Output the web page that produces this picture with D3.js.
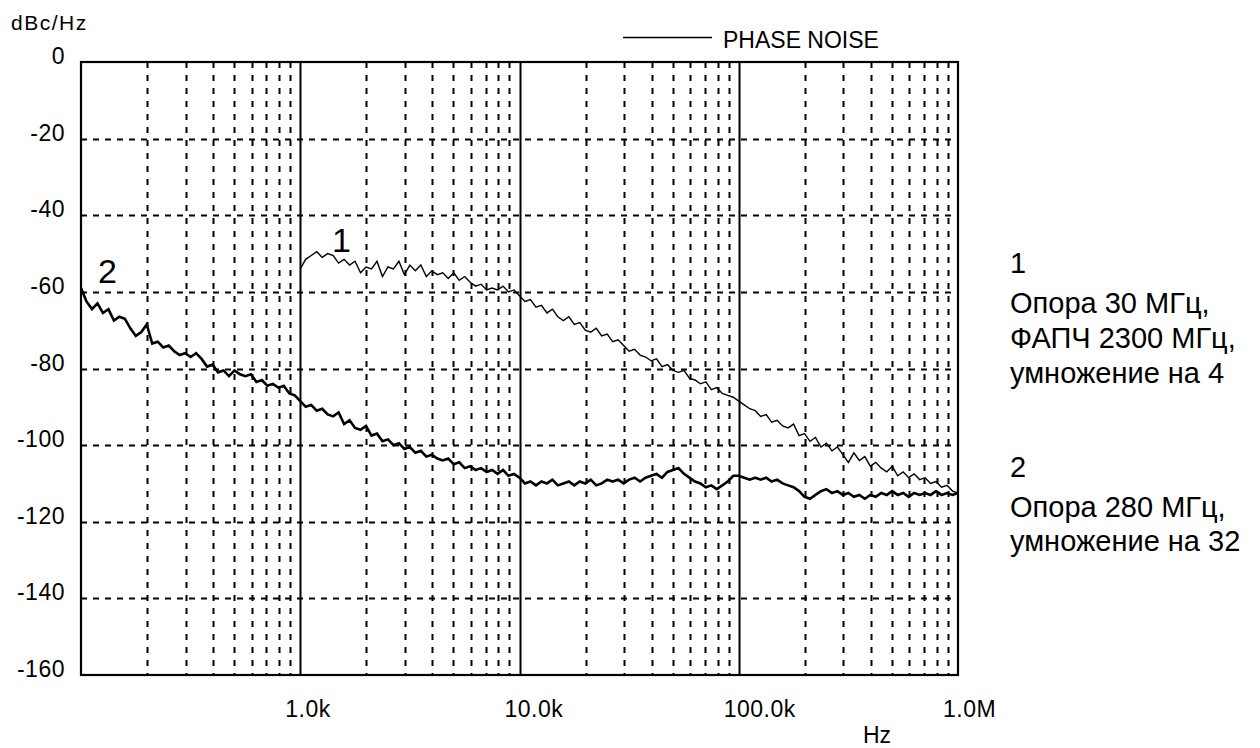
<!DOCTYPE html>
<html>
<head>
<meta charset="utf-8">
<script src="https://cdnjs.cloudflare.com/ajax/libs/d3/7.8.5/d3.min.js"></script>
<style>
  body { margin: 0; background: #fff; }
  svg { display: block; font-family: "Liberation Sans", Arial, sans-serif; }
</style>
</head>
<body>
<div id="chart"></div>
<script>
// mantissas inside one decade (log-even steps), shared by both traces
const steps = [1.000, 1.059, 1.122, 1.189, 1.259, 1.334, 1.413, 1.496, 1.585, 1.679,
  1.778, 1.884, 1.995, 2.113, 2.239, 2.371, 2.512, 2.661, 2.818, 2.985,
  3.162, 3.350, 3.548, 3.758, 3.981, 4.217, 4.467, 4.732, 5.012, 5.309,
  5.623, 5.957, 6.310, 6.683, 7.079, 7.499, 7.943, 8.414, 8.913, 9.441];

// trace 1 : ref 30 MHz, PLL 2300 MHz, x4  (starts at 1 kHz)
const trace1_1k = [-54, -51.5, -50.5, -49.5, -51, -50, -50.5, -52.5, -51.5, -53,
  -52, -55, -53.5, -54, -52, -56, -53.5, -54, -52, -55.5,
  -53, -54.5, -53, -56, -54.5, -55.5, -55, -56.5, -55, -57,
  -56, -57.5, -58.5, -58, -59.5, -59, -59.5, -58.5, -60, -59.5];
const trace1_10k = [-61, -62.5, -62, -64, -63.5, -65.5, -64.5, -66.5, -67.5, -66.5,
  -68.5, -68, -70, -70.5, -69.5, -71.5, -71, -73, -72.5, -74,
  -75.5, -75, -76.5, -77, -78, -77.5, -79.5, -79, -80.5, -81,
  -80.5, -82.5, -83, -84, -83.5, -85.5, -85, -86.5, -87, -87.5];
const trace1_100k = [-88.5, -89.5, -90.5, -91, -92.5, -92, -94, -93.5, -95, -95.5,
  -94.5, -97.5, -97, -99, -98, -100.5, -99.5, -101.5, -100.5, -102.5,
  -104.5, -102, -104, -103, -105.5, -104.5, -106, -107, -105.5, -108,
  -107, -108.5, -107.5, -109, -108.5, -110, -109.5, -111, -110.5, -112];
const trace1_1M = -112.5;

// trace 2 : ref 280 MHz, x32  (starts at 100 Hz)
const trace2_100 = [-59, -62.5, -64.5, -63, -65.5, -64.5, -67.5, -66.5, -67, -69.5,
  -71.5, -70.5, -68.5, -73.5, -73, -74.5, -74, -75.5, -76.5, -76,
  -77, -76, -77.5, -79.5, -79, -81, -80.5, -82, -80.5, -81.5,
  -82, -81.5, -83.5, -83, -84.5, -84, -85, -84.5, -86.5, -87];
const trace2_1k = [-88.5, -90, -89.5, -91, -90.5, -92, -92.5, -91.5, -94.5, -93.5,
  -95.5, -96, -95, -97.5, -97, -99, -98.5, -100, -99.5, -101,
  -100.5, -102, -101.5, -103, -102.5, -103.5, -104, -103.5, -105, -104.5,
  -106, -105.5, -106.5, -106, -107, -106.5, -107.5, -106.5, -108, -107.5];
const trace2_10k = [-108.5, -110, -109.5, -110.5, -109.5, -110, -109, -110.5, -110, -109.5,
  -110.5, -109.5, -110, -109, -110.5, -110, -109, -109.5, -109, -110,
  -109, -108.5, -109.5, -108.5, -108, -107.5, -108.5, -107, -106.5, -106,
  -107.5, -108.5, -109.5, -110, -111, -110.5, -111.5, -110.5, -109.5, -108];
const trace2_100k = [-108, -108.5, -109, -108.5, -109, -108.5, -109.5, -109, -110, -110.5,
  -111, -112, -113.5, -114, -113, -112, -111.5, -112.5, -112, -113,
  -112.5, -113.5, -113, -114, -113, -113.5, -112.5, -113, -112, -113,
  -112.5, -113.5, -112.5, -113, -112.5, -113, -112, -113, -112.5, -113];
const trace2_1M = -112.5;

const yTicks = [0, -20, -40, -60, -80, -100, -120, -140, -160];
const xDecades = [1e3, 1e4, 1e5, 1e6];
const xLabels = ['1.0k', '10.0k', '100.0k', '1.0M'];

const note1 = ['Опора 30 МГц,', 'ФАПЧ 2300 МГц,', 'умножение на 4'];
const note2 = ['Опора 280 МГц,', 'умножение на 32'];

// glue decade blocks into [freq, dB] pairs
function buildTrace(startDecade, blocks, last) {
  var pts = [];
  blocks.forEach(function (vals, b) {
    var dec = startDecade * Math.pow(10, b);
    vals.forEach(function (v, i) { pts.push([dec * steps[i], v]); });
  });
  pts.push([startDecade * Math.pow(10, blocks.length), last]);
  return pts;
}

const pts1 = buildTrace(1e3, [trace1_1k, trace1_10k, trace1_100k], trace1_1M);
const pts2 = buildTrace(1e2, [trace2_100, trace2_1k, trace2_10k, trace2_100k], trace2_1M);

const W = 1260, H = 748;
const plot = { left: 81, right: 958, top: 62, bottom: 675 };

const svg = d3.select('#chart').append('svg').attr('width', W).attr('height', H);

const x = d3.scaleLog().domain([100, 1e6]).range([plot.left, plot.right]);
const y = d3.scaleLinear().domain([-160, 0]).range([plot.bottom, plot.top]);

// grid ------------------------------------------------------------
const grid = svg.append('g');
const minor = x.ticks().filter(function (f) {
  var m = f / Math.pow(10, Math.floor(Math.log10(f) + 1e-9));
  return Math.round(m) !== 1;
});
grid.selectAll('line.vminor').data(minor).enter().append('line')
  .attr('x1', d => Math.round(x(d)) + 0.5).attr('x2', d => Math.round(x(d)) + 0.5)
  .attr('y1', plot.top).attr('y2', plot.bottom)
  .attr('stroke', '#000').attr('stroke-width', 2).attr('stroke-dasharray', '6,7');

grid.selectAll('line.hgrid').data(yTicks.slice(1, -1)).enter().append('line')
  .attr('x1', plot.left).attr('x2', plot.right)
  .attr('y1', d => Math.round(y(d)) + 0.5).attr('y2', d => Math.round(y(d)) + 0.5)
  .attr('stroke', '#000').attr('stroke-width', 2).attr('stroke-dasharray', '6,6');

grid.selectAll('line.vmajor').data(xDecades.slice(0, -1)).enter().append('line')
  .attr('x1', d => Math.round(x(d)) + 0.5).attr('x2', d => Math.round(x(d)) + 0.5)
  .attr('y1', plot.top).attr('y2', plot.bottom)
  .attr('stroke', '#000').attr('stroke-width', 2);

svg.append('rect')
  .attr('x', plot.left).attr('y', plot.top)
  .attr('width', plot.right - plot.left).attr('height', plot.bottom - plot.top)
  .attr('fill', 'none').attr('stroke', '#000').attr('stroke-width', 2.2);

// traces ------------------------------------------------------------
const line = d3.line().x(d => x(d[0])).y(d => y(d[1]));
svg.append('path').datum(pts1).attr('d', line)
  .attr('fill', 'none').attr('stroke', '#000').attr('stroke-width', 1.4);
svg.append('path').datum(pts2).attr('d', line)
  .attr('fill', 'none').attr('stroke', '#000').attr('stroke-width', 2.6);

// axis labels ------------------------------------------------------
svg.selectAll('text.ytick').data(yTicks).enter().append('text')
  .attr('x', 65).attr('y', d => y(d) + 2)
  .attr('text-anchor', 'end').attr('font-size', 23).attr('letter-spacing', 0.5)
  .text(d => d);

svg.selectAll('text.xtick').data(xDecades).enter().append('text')
  .attr('x', d => x(d) - 15).attr('y', 717)
  .attr('font-size', 23).attr('letter-spacing', 0.5)
  .text((d, i) => xLabels[i]);

svg.append('text').attr('x', 863).attr('y', 743).attr('font-size', 23).text('Hz');
svg.append('text').attr('x', 11).attr('y', 30).attr('font-size', 21)
  .attr('letter-spacing', 1.5).text('dBc/Hz');

// legend
svg.append('line').attr('x1', 623).attr('x2', 712).attr('y1', 37.5).attr('y2', 37.5)
  .attr('stroke', '#000').attr('stroke-width', 1.5);
svg.append('text').attr('x', 723).attr('y', 48).attr('font-size', 23).text('PHASE NOISE');

// curve numbers
svg.append('text').attr('x', 98).attr('y', 283).attr('font-size', 34).text('2');
svg.append('text').attr('x', 332).attr('y', 252).attr('font-size', 34).text('1');

// notes on the right
const notes = svg.append('g').attr('font-size', 29);
notes.append('text').attr('x', 1010).attr('y', 273).text('1');
notes.selectAll('text.n1').data(note1).enter().append('text')
  .attr('x', 1010).attr('y', (d, i) => 313 + i * 35).text(d => d);
notes.append('text').attr('x', 1010).attr('y', 477).text('2');
notes.selectAll('text.n2').data(note2).enter().append('text')
  .attr('x', 1010).attr('y', (d, i) => 517 + i * 34).text(d => d);
</script>
</body>
</html>
